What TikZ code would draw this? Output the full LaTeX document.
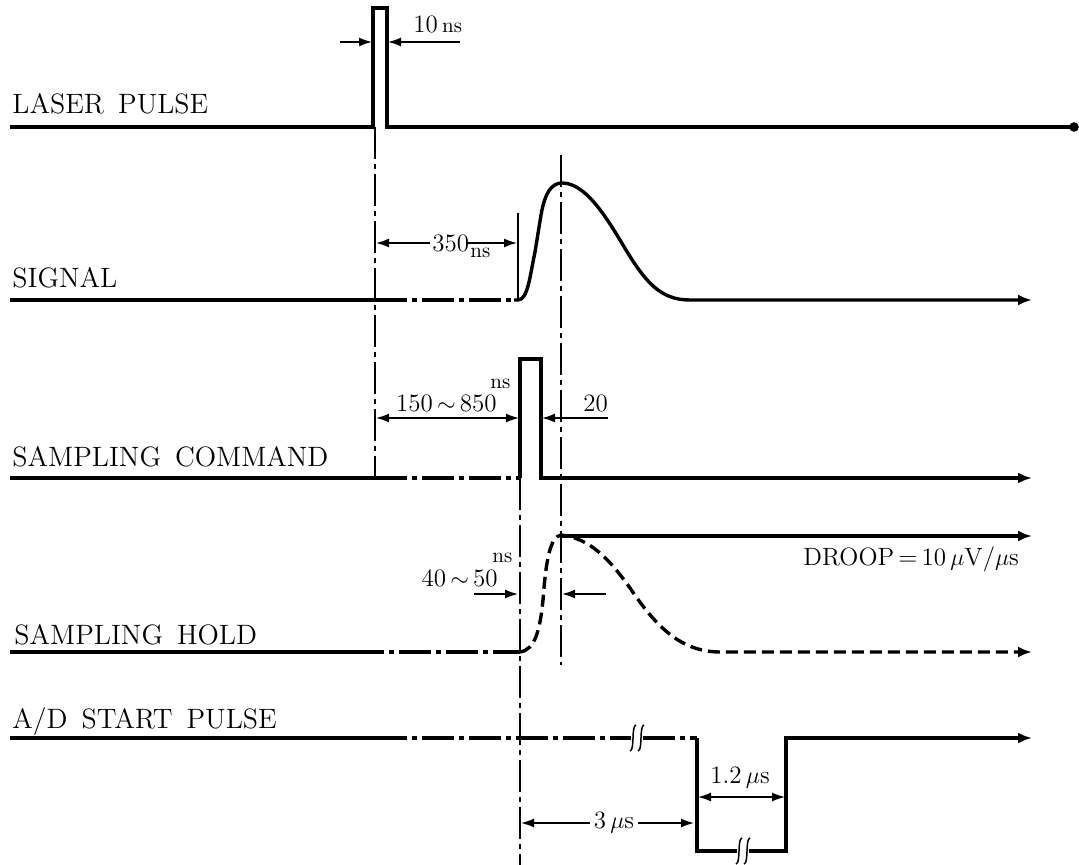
\documentclass[tikz,border=0pt]{standalone}
\usepackage{fontspec}
\usetikzlibrary{arrows.meta}
\newcommand\ws{\hspace{0.5em}}
\begin{document}
\begin{tikzpicture}[x=0.5pt,y=-0.5pt,
  sig/.style={line width=1.7pt},
  thinl/.style={line width=0.75pt},
  dd/.style={dash pattern=on 16pt off 2.5pt on 2.5pt off 2.5pt},
  dsh/.style={dash pattern=on 6pt off 3pt},
  endarr/.style={-{Latex[length=7pt,width=5.5pt]}},
  dim/.style={thinl,-{Latex[length=6.5pt,width=4.5pt]}},
  dimb/.style={thinl,{Latex[length=6.5pt,width=4.5pt]}-{Latex[length=6.5pt,width=4.5pt]}},
  lab/.style={inner sep=0pt,anchor=base west,font=\fontsize{14}{16}\selectfont\addfontfeatures{LetterSpace=8}},
  num/.style={inner sep=0pt,font=\fontsize{12.5}{14}\selectfont},
  sm/.style={inner sep=0pt,font=\fontsize{10.5}{12}\selectfont},
  brk/.pic={\draw[thinl] (-7,13) .. controls (-2,12) and (-6,-12) .. (-1,-13);
            \draw[thinl] (1,13) .. controls (6,12) and (2,-12) .. (7,-13);}
]
\useasboundingbox (0,0) rectangle (1079,865);

% ---------- vertical reference lines ----------
\coordinate (v1t) at (375,127); \coordinate (v1b) at (375,478);
\coordinate (v2t) at (561,155); \coordinate (v2b) at (561,665);
\coordinate (v3t) at (520,478); \coordinate (v3b) at (520,865);
\coordinate (v4t) at (518,213); \coordinate (v4b) at (518,300);
\draw[thinl,dd] (v1t) -- (v1b);
\draw[thinl,dd] (v2t) -- (v2b);
\draw[thinl,dd] (v3t) -- (v3b);
\draw[thinl] (v4t) -- (v4b);

% ---------- LASER PULSE ----------
\node[lab] (lp) at (12,114) {LASER\ws PULSE};
\draw[sig] (10,127) -- (373,127) -- (373,8) -- (387,8) -- (387,127) -- (1072,127);
\fill (1074,127) circle (2.4pt);
\draw[dim] (340,42) -- (372,42);
\draw[dim] (460,42) -- (388,42);
\node[num,anchor=base west] (t10) at (413,33) {10\,{\fontsize{10.5}{12}\selectfont ns}};

% ---------- SIGNAL ----------
\node[lab] (sg) at (12,288) {SIGNAL};
\draw[sig] (10,300) -- (375,300);
\draw[sig,dd] (375,300) -- (514,300);
\draw[sig,endarr] (514,300) -- (518,300) .. controls (528,300) and (530,275) .. (535,252)
  -- (541,215) .. controls (545,192) and (552,183) .. (562,183)
  .. controls (585,183) and (605,215) .. (623,245)
  .. controls (645,282) and (660,300) .. (690,300) -- (1032,300);
\draw[dim] (430,243) -- (376,243);
\draw[dim] (468,243) -- (517,243);
\node[num,anchor=base west] (t350) at (432,252) {350};
\node[sm,anchor=base west] (tns1) at (470,258) {ns};

% ---------- SAMPLING COMMAND ----------
\node[lab] (sc) at (12,466) {SAMPLING\ws COMMAND};
\draw[sig] (10,478) -- (375,478);
\draw[sig,dd] (375,478) -- (520,478);
\draw[sig,endarr] (520,478) -- (520,359) -- (541,359) -- (541,478) -- (1032,478);
\draw[dimb] (376,418) -- (519,418);
\node[num,anchor=base east] (t150) at (497,411) {150\,$\sim$\,850};
\node[sm,anchor=base west] (tns2) at (490,388) {ns};
\draw[dim] (608,418) -- (542,418);
\node[num,anchor=base west] (t20) at (583,411) {20};

% ---------- SAMPLING HOLD ----------
\node[lab] (sh) at (14,644) {SAMPLING\ws HOLD};
\draw[sig] (10,652) -- (352,652);
\draw[sig,dd] (352,652) -- (520,652);
\draw[sig,dsh,endarr] (520,652) .. controls (535,650) and (540,630) .. (543,600)
  .. controls (546,560) and (550,537) .. (561,535)
  .. controls (590,538) and (610,560) .. (630,588)
  .. controls (655,625) and (680,652) .. (720,652) -- (1032,652);
\draw[sig,endarr] (561,536) -- (1032,536);
\node[num,anchor=base west] (tdr) at (803,565) {DROOP\,=\,10\,$\mu$V/$\mu$s};
\draw[dim] (474,594) -- (518,594);
\draw[dim] (606,594) -- (562,594);
\node[num,anchor=base east] (t40) at (498,586) {40\,$\sim$\,50};
\node[sm,anchor=base west] (tns3) at (492,562) {ns};

% ---------- A/D START PULSE ----------
\node[lab] (ad) at (12,728) {A/D\ws START\ws PULSE};
\draw[sig] (10,738) -- (375,738);
\draw[sig,dd] (375,738) -- (631,738);
\draw[sig,dd] (643,738) -- (697,738);
\pic at (637,738) {brk};
\draw[sig,endarr] (697,738) -- (697,851) -- (737,851) (749,851) -- (786,851) -- (786,738) -- (1032,738);
\pic at (743,851) {brk};
\draw[dimb] (698,797) -- (785,797);
\node[num,anchor=base west] (t12) at (710,783) {1.2\,$\mu$s};
\draw[dimb] (521,823) -- (694,823);
\node[num,fill=white,inner xsep=2pt,inner ysep=1pt] (t3) at (614,823) {3\,$\mu$s};
\end{tikzpicture}
\end{document}
